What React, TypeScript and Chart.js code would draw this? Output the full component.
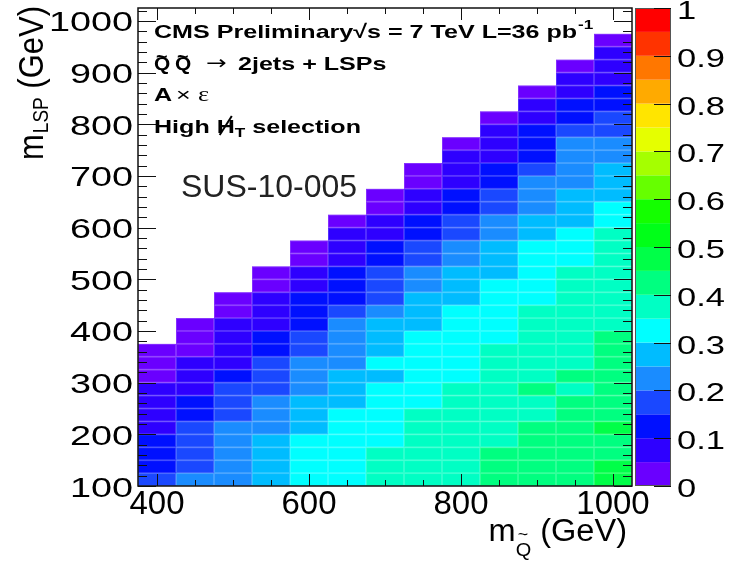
import React, { useEffect, useRef } from "react";
import { Chart, registerables } from "chart.js";

Chart.register(...registerables);

// squark mass (column centres, GeV)
const mSquark = [400, 450, 500, 550, 600, 650, 700, 750, 800, 850, 900, 950, 1000];
// LSP mass (lower edge of each row, GeV)
const mLSP = [100, 125, 150, 175, 200, 225, 250, 275, 300, 325, 350, 375, 400, 425, 450, 475, 500, 525, 550, 575, 600, 625, 650, 675, 700, 725, 750, 775, 800, 825, 850, 875, 900, 925, 950];

// acceptance x efficiency per squark-mass column, from mLSP = 100 upward
const eff400 = [0.17, 0.14, 0.13, 0.11, 0.09, 0.08, 0.07, 0.06, 0.04, 0.03, 0.02];
const eff450 = [0.21, 0.19, 0.18, 0.17, 0.16, 0.14, 0.12, 0.09, 0.08, 0.06, 0.04, 0.03, 0.02];
const eff500 = [0.24, 0.23, 0.23, 0.22, 0.21, 0.19, 0.18, 0.16, 0.13, 0.09, 0.09, 0.07, 0.06, 0.04, 0.02];
const eff550 = [0.28, 0.28, 0.27, 0.26, 0.24, 0.23, 0.21, 0.19, 0.18, 0.16, 0.14, 0.12, 0.09, 0.08, 0.06, 0.04, 0.02];
const eff600 = [0.33, 0.33, 0.32, 0.31, 0.29, 0.28, 0.27, 0.24, 0.23, 0.21, 0.19, 0.17, 0.14, 0.13, 0.11, 0.09, 0.07, 0.04, 0.02];
const eff650 = [0.34, 0.34, 0.33, 0.33, 0.32, 0.31, 0.29, 0.28, 0.27, 0.24, 0.23, 0.22, 0.21, 0.18, 0.14, 0.13, 0.11, 0.09, 0.08, 0.06, 0.03];
const eff700 = [0.37, 0.37, 0.36, 0.34, 0.34, 0.33, 0.32, 0.31, 0.29, 0.31, 0.29, 0.28, 0.26, 0.23, 0.19, 0.18, 0.16, 0.14, 0.12, 0.09, 0.07, 0.04, 0.02];
const eff750 = [0.38, 0.38, 0.37, 0.37, 0.36, 0.36, 0.34, 0.34, 0.33, 0.33, 0.32, 0.31, 0.29, 0.28, 0.26, 0.24, 0.22, 0.19, 0.17, 0.14, 0.12, 0.09, 0.07, 0.04, 0.02];
const eff800 = [0.39, 0.39, 0.38, 0.38, 0.38, 0.37, 0.37, 0.36, 0.34, 0.34, 0.33, 0.33, 0.32, 0.31, 0.29, 0.28, 0.26, 0.24, 0.22, 0.19, 0.17, 0.14, 0.12, 0.09, 0.08, 0.06, 0.03];
const eff850 = [0.42, 0.42, 0.41, 0.39, 0.39, 0.38, 0.38, 0.37, 0.37, 0.36, 0.36, 0.34, 0.34, 0.33, 0.32, 0.31, 0.29, 0.28, 0.26, 0.24, 0.21, 0.19, 0.16, 0.14, 0.11, 0.09, 0.08, 0.06, 0.03];
const eff900 = [0.43, 0.42, 0.42, 0.41, 0.41, 0.39, 0.38, 0.41, 0.39, 0.38, 0.38, 0.37, 0.37, 0.36, 0.34, 0.34, 0.33, 0.32, 0.31, 0.29, 0.27, 0.24, 0.23, 0.21, 0.18, 0.14, 0.13, 0.11, 0.09, 0.07, 0.03];
const eff950 = [0.43, 0.43, 0.42, 0.42, 0.42, 0.41, 0.41, 0.39, 0.41, 0.39, 0.39, 0.38, 0.38, 0.37, 0.37, 0.36, 0.36, 0.34, 0.33, 0.31, 0.29, 0.28, 0.26, 0.24, 0.23, 0.22, 0.21, 0.18, 0.14, 0.12, 0.09, 0.07, 0.03];
const eff1000 = [0.46, 0.46, 0.44, 0.43, 0.46, 0.43, 0.43, 0.42, 0.42, 0.42, 0.41, 0.41, 0.39, 0.39, 0.38, 0.38, 0.37, 0.37, 0.36, 0.36, 0.34, 0.32, 0.29, 0.28, 0.26, 0.24, 0.22, 0.19, 0.17, 0.14, 0.12, 0.09, 0.08, 0.06, 0.03];
const efficiency = [eff400, eff450, eff500, eff550, eff600, eff650, eff700, eff750, eff800, eff850, eff900, eff950, eff1000];

const xBinWidth = 50;
const yBinWidth = 25;

const xTickValues = [400, 600, 800, 1000];
const yTickValues = [100, 200, 300, 400, 500, 600, 700, 800, 900, 1000];
const zTickValues = [0, 0.1, 0.2, 0.3, 0.4, 0.5, 0.6, 0.7, 0.8, 0.9, 1];
const zTickLabels = ["0", "0.1", "0.2", "0.3", "0.4", "0.5", "0.6", "0.7", "0.8", "0.9", "1"];

// 20-step rainbow palette, from 0 to 1
const paletteColors = [
  "#6a00ff", "#2e00ff", "#0010ff", "#1a48ff", "#1a8cff",
  "#00bcff", "#00ffff", "#00ffc4", "#00ff80", "#00ff48",
  "#00ff18", "#14ff00", "#66ff00", "#a5ff00", "#e5ff00",
  "#ffe500", "#ffaa00", "#ff7700", "#ff3300", "#ff0000",
];

const FONT = '"Liberation Sans", Arial, Helvetica, sans-serif';

const cells = mSquark.flatMap((mq, i) =>
  efficiency[i].map((v, k) => ({ x: mq, y: mLSP[k], v }))
);

function colorFor(v: number) {
  const n = paletteColors.length;
  const idx = Math.max(0, Math.min(n - 1, Math.floor(v * n)));
  return paletteColors[idx];
}

function txt(
  ctx: CanvasRenderingContext2D,
  s: string,
  x: number,
  y: number,
  font: string,
  opts: { sx?: number; align?: CanvasTextAlign; color?: string } = {}
) {
  const sx = opts.sx ?? 1;
  ctx.save();
  ctx.font = font;
  ctx.fillStyle = opts.color ?? "#000";
  ctx.textAlign = opts.align ?? "left";
  ctx.textBaseline = "alphabetic";
  ctx.translate(x, y);
  ctx.scale(sx, 1);
  ctx.fillText(s, 0, 0);
  const w = ctx.measureText(s).width * sx;
  ctx.restore();
  return w;
}

const heatmapPlugin = {
  id: "heatmap",
  beforeDatasetsDraw(chart: any) {
    const { ctx, scales } = chart;
    const xs = scales.x;
    const ys = scales.y;
    const data = chart.data.datasets[0].data as { x: number; y: number; v: number }[];
    ctx.save();
    data.forEach((c) => {
      const x0 = xs.getPixelForValue(c.x - xBinWidth / 2);
      const x1 = xs.getPixelForValue(c.x + xBinWidth / 2);
      const y0 = ys.getPixelForValue(c.y + yBinWidth);
      const y1 = ys.getPixelForValue(c.y);
      ctx.fillStyle = colorFor(c.v);
      ctx.fillRect(x0, y0, x1 - x0, y1 - y0);
      ctx.strokeStyle = "rgba(255,255,255,0.18)";
      ctx.lineWidth = 1;
      ctx.strokeRect(x0 + 0.5, y0 + 0.5, x1 - x0 - 1, y1 - y0 - 1);
    });
    ctx.restore();
  },
};

const framePlugin = {
  id: "frame",
  afterDatasetsDraw(chart: any) {
    const { ctx, chartArea: a, scales } = chart;
    const xs = scales.x;
    const ys = scales.y;
    const zs = scales.z;
    ctx.save();
    ctx.strokeStyle = "#111";
    ctx.lineWidth = 1;
    // y ticks (left and right), every 20 GeV, major each 100
    for (let v = 100; v <= 1020; v += 20) {
      const py = Math.round(ys.getPixelForValue(v)) + 0.5;
      const len = v % 100 === 0 ? 18 : 9;
      ctx.beginPath();
      ctx.moveTo(a.left, py);
      ctx.lineTo(a.left + len, py);
      ctx.moveTo(a.right, py);
      ctx.lineTo(a.right - len, py);
      ctx.stroke();
    }
    // x ticks (bottom and top), every 50 GeV, major each 200
    for (let v = 400; v <= 1000; v += 50) {
      const px = Math.round(xs.getPixelForValue(v)) + 0.5;
      const len = v % 200 === 0 ? 12 : 6;
      ctx.beginPath();
      ctx.moveTo(px, a.bottom);
      ctx.lineTo(px, a.bottom - len);
      ctx.moveTo(px, a.top);
      ctx.lineTo(px, a.top + len);
      ctx.stroke();
    }
    ctx.lineWidth = 1.5;
    ctx.strokeRect(a.left, a.top, a.right - a.left, a.bottom - a.top);

    // colour bar
    const cbL = a.right + 3;
    const cbR = a.right + 39;
    const n = paletteColors.length;
    for (let i = 0; i < n; i++) {
      const yTop = zs.getPixelForValue((i + 1) / n);
      const yBot = zs.getPixelForValue(i / n);
      ctx.fillStyle = paletteColors[i];
      ctx.fillRect(cbL, yTop, cbR - cbL, yBot - yTop);
    }
    ctx.strokeStyle = "#555";
    ctx.lineWidth = 1;
    ctx.strokeRect(cbL + 0.5, a.top + 0.5, cbR - cbL - 1, a.bottom - a.top - 1);
    ctx.strokeStyle = "#111";
    zTickValues.forEach((v) => {
      const py = Math.round(zs.getPixelForValue(v)) + 0.5;
      ctx.beginPath();
      ctx.moveTo(cbR, py);
      ctx.lineTo(cbR - 17, py);
      ctx.stroke();
    });
    ctx.restore();
  },
  afterDraw(chart: any) {
    const { ctx, chartArea: a, scales } = chart;
    const xs = scales.x;
    const ys = scales.y;
    const zs = scales.z;

    // axis tick labels
    yTickValues.forEach((v) => {
      txt(ctx, String(v), a.left - 5, ys.getPixelForValue(v) + 10.5, `27px ${FONT}`, { sx: 1.4, align: "right" });
    });
    xTickValues.forEach((v) => {
      txt(ctx, String(v), xs.getPixelForValue(v), a.bottom + 28, `33px ${FONT}`, { align: "center" });
    });
    zTickValues.forEach((v, i) => {
      txt(ctx, zTickLabels[i], a.right + 45, zs.getPixelForValue(v) + 11, `25px ${FONT}`, { sx: 1.38 });
    });

    // x axis title: m_{Q~} (GeV), right-aligned to the frame
    {
      const f = `31px ${FONT}`;
      const fs = `19px ${FONT}`;
      const right = a.right - 5;
      const base = a.bottom + 55;
      ctx.save();
      ctx.font = f;
      const wG = ctx.measureText(" (GeV)").width * 1.05;
      const wm = ctx.measureText("m").width * 1.05;
      ctx.font = fs;
      const wQ = ctx.measureText("Q").width * 1.05;
      ctx.restore();
      const xG = right - wG;
      const xQ = xG - wQ;
      const xm = xQ - wm;
      txt(ctx, "m", xm, base, f, { sx: 1.05 });
      txt(ctx, "Q", xQ, base + 15, fs, { sx: 1.05 });
      txt(ctx, "~", xQ + 2, base - 1, `17px ${FONT}`, { sx: 1.05 });
      txt(ctx, " (GeV)", xG, base, f, { sx: 1.05 });
    }

    // y axis title: m_{LSP} (GeV), rotated
    {
      ctx.save();
      ctx.translate(43, a.top + 152);
      ctx.rotate(-Math.PI / 2);
      ctx.scale(1, 1.15);
      const f = `31px ${FONT}`;
      const fs = `19px ${FONT}`;
      let cx = 0;
      cx += txt(ctx, "m", cx, 0, f);
      cx += txt(ctx, "LSP", cx + 1, 4, fs) + 1;
      txt(ctx, " (GeV)", cx, 0, f);
      ctx.restore();
    }

    // annotation text block
    const sx = 1.32;
    const B = `bold 19px ${FONT}`;
    {
      let cx = 154;
      cx += txt(ctx, "CMS Preliminary", cx, 38, B, { sx });
      cx += txt(ctx, "\u221As = 7 TeV L=36 pb", cx, 38, B, { sx });
      txt(ctx, "-1", cx + 1, 29, `bold 13px ${FONT}`, { sx });
    }
    {
      const base = 70;
      const drawQt = (x: number) => {
        const w = txt(ctx, "Q", x, base, B, { sx: 1.1 });
        txt(ctx, "~", x + 2, base - 7, `bold 18px ${FONT}`, { sx: 1.1 });
        return w;
      };
      drawQt(154);
      drawQt(175);
      txt(ctx, "\u2192", 206, base - 1, `19px "DejaVu Sans", ${FONT}`, { sx: 1.3 });
      txt(ctx, "2jets + LSPs", 238, base, B, { sx });
    }
    {
      const base = 101;
      txt(ctx, "A", 154, base, B, { sx });
      txt(ctx, "\u00D7", 176, base, `19px ${FONT}`, { sx });
      txt(ctx, "\u03B5", 198, base, `20px "Liberation Serif", serif`, { sx });
    }
    {
      const base = 133;
      let cx = 154;
      cx += txt(ctx, "High ", cx, base, B, { sx });
      const hx = cx;
      const wH = txt(ctx, "H", hx, base, B, { sx });
      ctx.save();
      ctx.strokeStyle = "#000";
      ctx.lineWidth = 2;
      ctx.beginPath();
      ctx.moveTo(hx + wH - 3, base - 17);
      ctx.lineTo(hx + 3, base + 2);
      ctx.stroke();
      ctx.restore();
      cx += wH;
      cx += txt(ctx, "T", cx, base + 4, `bold 13px ${FONT}`, { sx });
      txt(ctx, " selection", cx, base, B, { sx });
    }
    txt(ctx, "SUS-10-005", 181, 197, `32px ${FONT}`, { color: "#222" });
  },
};

export default function App() {
  const ref = useRef<HTMLCanvasElement>(null);
  useEffect(() => {
    if (!ref.current) return;
    const chart = new Chart(ref.current, {
      type: "scatter",
      data: {
        datasets: [
          {
            data: cells as any,
            pointRadius: 0,
            pointHoverRadius: 0,
          },
        ],
      },
      options: {
        responsive: false,
        animation: false,
        events: [],
        layout: { padding: { left: 138, right: 99, top: 8, bottom: 77 } },
        plugins: { legend: { display: false }, tooltip: { enabled: false } },
        scales: {
          x: { type: "linear", min: 375, max: 1025, display: false },
          y: { type: "linear", min: 100, max: 1025, display: false },
          z: { type: "linear", axis: "y", min: 0, max: 1, display: false } as any,
        },
      },
      plugins: [heatmapPlugin, framePlugin],
    });
    return () => chart.destroy();
  }, []);
  return (
    <div style={{ position: "absolute", left: 0, top: 0, width: 731, height: 563, background: "#fff" }}>
      <canvas ref={ref} width={731} height={563} style={{ display: "block" }} />
    </div>
  );
}
